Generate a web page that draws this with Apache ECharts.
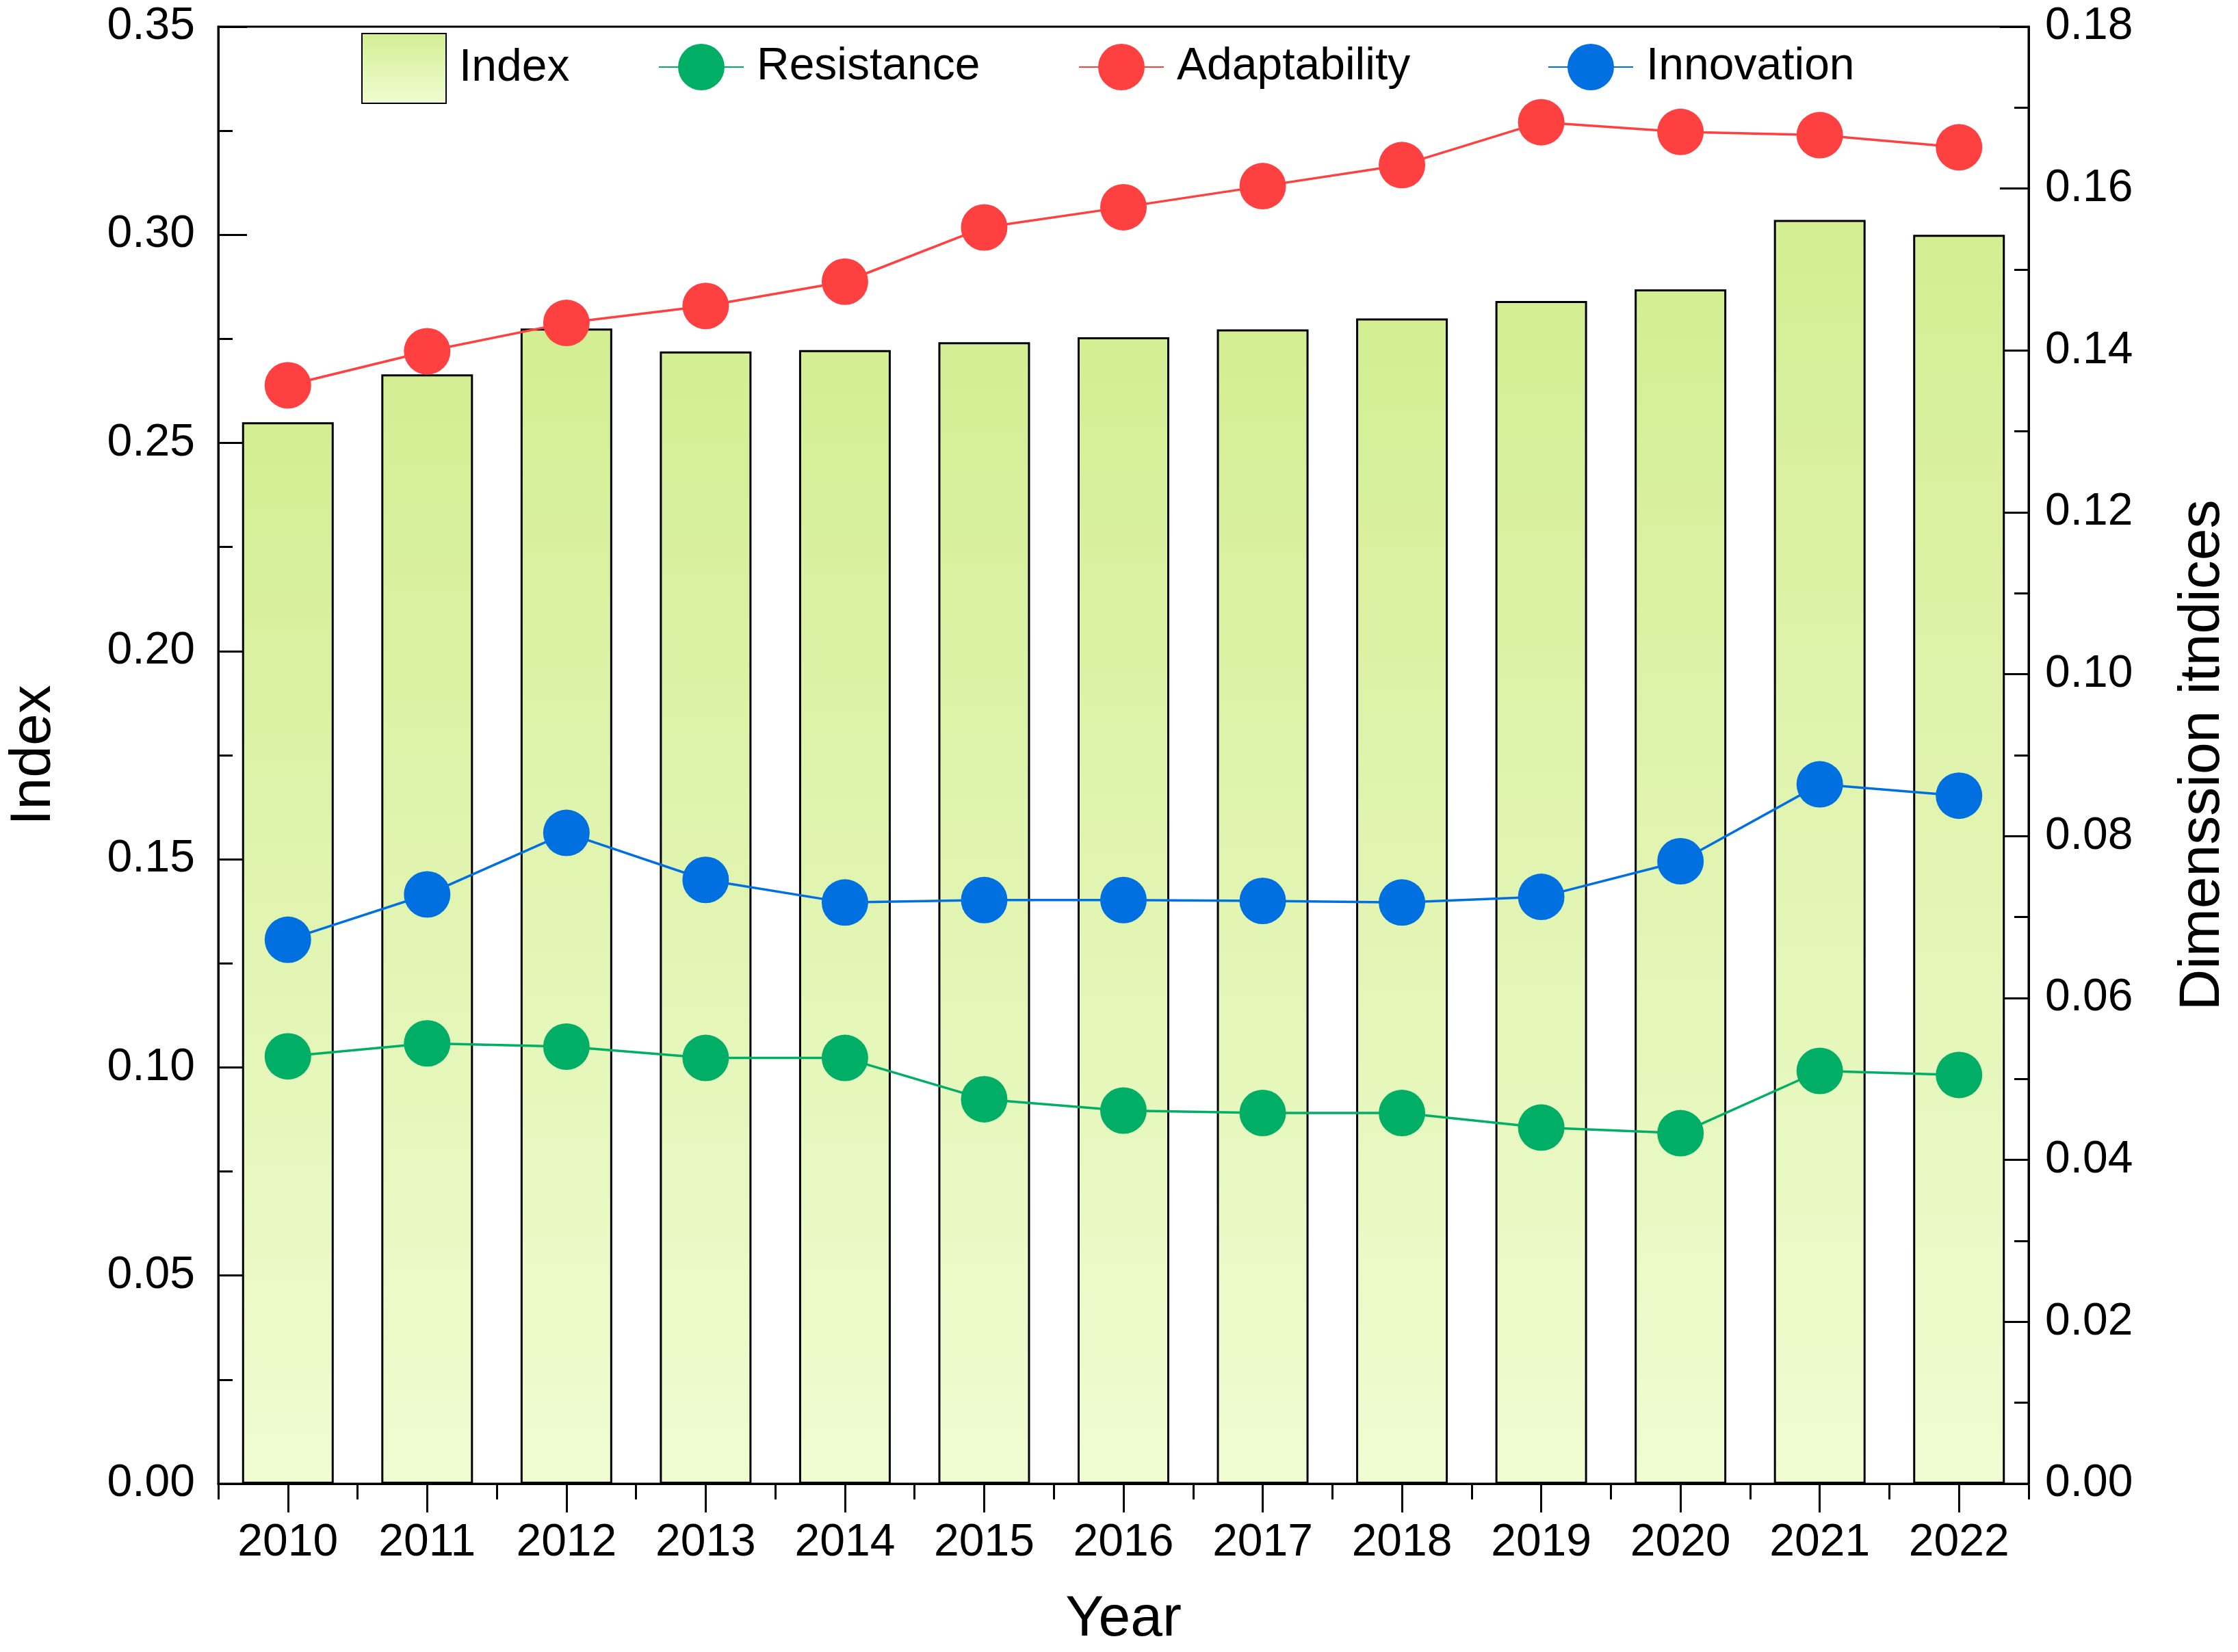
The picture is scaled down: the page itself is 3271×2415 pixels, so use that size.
<!DOCTYPE html>
<html>
<head>
<meta charset="utf-8">
<script src="https://cdn.jsdelivr.net/npm/echarts@6/dist/echarts.min.js"></script>
<style>
html,body{margin:0;padding:0;background:#fff;}
#chart{width:3271px;height:2415px;}
</style>
</head>
<body>
<div id="chart"></div>
<script>
const years = ['2010','2011','2012','2013','2014','2015','2016','2017','2018','2019','2020','2021','2022'];
const indexValues = [0.255,0.2665,0.2775,0.272,0.2723,0.2742,0.2754,0.2773,0.2799,0.2841,0.2869,0.3036,0.300];
const resistance = [0.0528,0.0544,0.0540,0.0526,0.0526,0.0475,0.0461,0.0458,0.0458,0.0440,0.0433,0.0510,0.0505];
const adaptability = [0.1357,0.1399,0.1434,0.1455,0.1485,0.1552,0.1577,0.1603,0.1629,0.1682,0.1670,0.1666,0.1651];
const innovation = [0.0672,0.0728,0.0804,0.0746,0.0718,0.0721,0.0721,0.0720,0.0718,0.0725,0.0769,0.0864,0.0850];

const FONT = 'Liberation Sans';
const chart = echarts.init(document.getElementById('chart'));

const lineLegend = (name, left) => ({
  data: [name], left: left, top: 64, padding: 0,
  itemWidth: 124, itemHeight: 85,
  textStyle: {fontFamily: FONT, fontSize: 66, color: '#000', padding: [10,0,0,14]}
});

const option = {
  animation: false,
  backgroundColor: '#fff',
  grid: {left: 319, right: 306, top: 39, bottom: 244, show: true, borderColor: '#000', borderWidth: 3, backgroundColor: 'transparent'},
  legend: [
    {data: [{name: 'Index', icon: 'rect'}], left: 528, top: 48, padding: 0, itemWidth: 123, itemHeight: 102,
     textStyle: {fontFamily: FONT, fontSize: 66, color: '#000', padding: [8,0,0,14]}},
    lineLegend('Resistance', 962),
    lineLegend('Adaptability', 1576),
    lineLegend('Innovation', 2262)
  ],
  xAxis: [
    {type: 'category', data: years, position: 'bottom',
     name: 'Year', nameLocation: 'middle', nameGap: 157,
     nameTextStyle: {fontFamily: FONT, fontSize: 84, color: '#000'},
     axisLine: {show: true, lineStyle: {color: '#000', width: 3}},
     axisTick: {show: true, alignWithLabel: true, length: 42, lineStyle: {color: '#000', width: 3}},
     axisLabel: {fontFamily: FONT, fontSize: 66, color: '#000', margin: 54},
     splitLine: {show: false}},
    {type: 'category', data: years, position: 'top', offset: -2132,
     axisLine: {show: false},
     axisTick: {show: true, inside: true, alignWithLabel: false, length: 21, lineStyle: {color: '#000', width: 3}},
     axisLabel: {show: false}, splitLine: {show: false}}
  ],
  yAxis: [
    {type: 'value', min: 0, max: 0.35, interval: 0.05, position: 'left',
     name: 'Index', nameLocation: 'middle', nameGap: 227, nameRotate: 90,
     nameTextStyle: {fontFamily: FONT, fontSize: 84, color: '#000'},
     axisLine: {show: true, lineStyle: {color: '#000', width: 3}},
     axisTick: {show: true, inside: true, length: 42, lineStyle: {color: '#000', width: 3}},
     minorTick: {show: true, splitNumber: 2, length: 21, lineStyle: {color: '#000', width: 3}},
     axisLabel: {fontFamily: FONT, fontSize: 66, color: '#000', margin: 34, formatter: v => v.toFixed(2)},
     splitLine: {show: false}},
    {type: 'value', min: 0, max: 0.18, interval: 0.02, position: 'right',
     name: 'Dimenssion itndices', nameLocation: 'middle', nameGap: 213, nameRotate: 90,
     nameTextStyle: {fontFamily: FONT, fontSize: 84, color: '#000'},
     axisLine: {show: true, lineStyle: {color: '#000', width: 3}},
     axisTick: {show: true, inside: true, length: 42, lineStyle: {color: '#000', width: 3}},
     minorTick: {show: true, splitNumber: 2, length: 21, lineStyle: {color: '#000', width: 3}},
     axisLabel: {fontFamily: FONT, fontSize: 66, color: '#000', margin: 24, formatter: v => v.toFixed(2)},
     splitLine: {show: false}}
  ],
  series: [
    {name: 'Index', type: 'bar', data: indexValues, xAxisIndex: 0, yAxisIndex: 0, barWidth: 134,
     itemStyle: {
       color: new echarts.graphic.LinearGradient(0, 0, 0, 1, [
         {offset: 0, color: '#d3ee93'}, {offset: 1, color: '#f0fcd2'}
       ]),
       borderColor: '#000', borderWidth: 3
     }},
    {name: 'Resistance', type: 'line', data: resistance, xAxisIndex: 0, yAxisIndex: 1,
     symbol: 'circle', symbolSize: 68, color: '#00ae66',
     lineStyle: {color: '#00ae66', width: 3.5}, itemStyle: {color: '#00ae66'}},
    {name: 'Adaptability', type: 'line', data: adaptability, xAxisIndex: 0, yAxisIndex: 1,
     symbol: 'circle', symbolSize: 68, color: '#ff4040',
     lineStyle: {color: '#ff4040', width: 3.5}, itemStyle: {color: '#ff4040'}},
    {name: 'Innovation', type: 'line', data: innovation, xAxisIndex: 0, yAxisIndex: 1,
     symbol: 'circle', symbolSize: 68, color: '#0070e0',
     lineStyle: {color: '#0070e0', width: 3.5}, itemStyle: {color: '#0070e0'}}
  ]
};
chart.setOption(option);
</script>
</body>
</html>
